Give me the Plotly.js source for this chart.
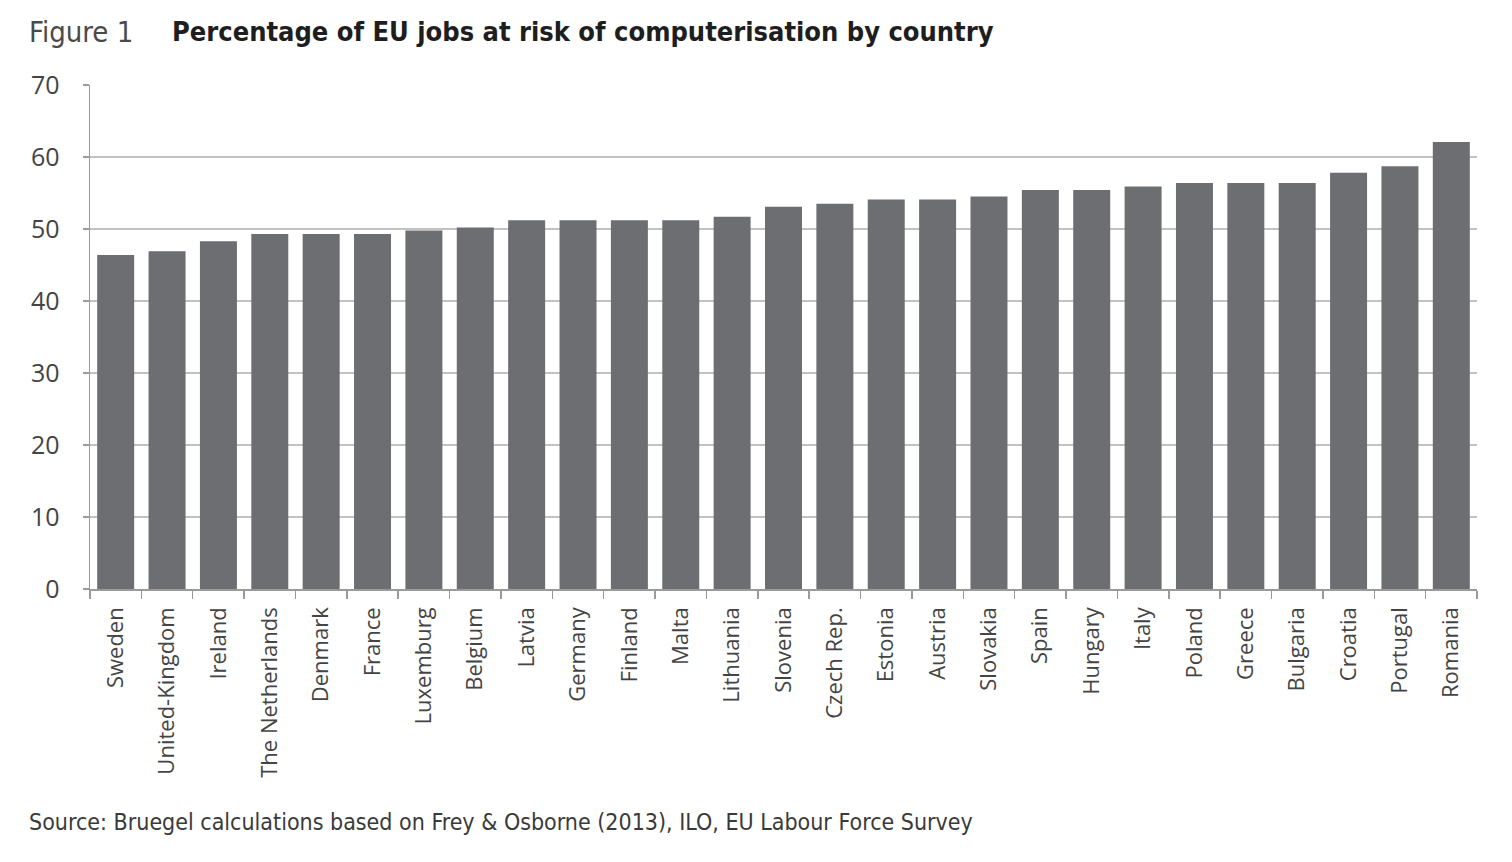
<!DOCTYPE html>
<html>
<head>
<meta charset="utf-8">
<script src="https://cdn.plot.ly/plotly-3.0.1.min.js"></script>
<style>
  html, body { margin: 0; padding: 0; background: #ffffff; }
  #chart { width: 1512px; height: 862px; }
</style>
</head>
<body>
<div id="chart"></div>
<script>
const countries = ["Sweden", "United-Kingdom", "Ireland", "The Netherlands", "Denmark", "France",
  "Luxemburg", "Belgium", "Latvia", "Germany", "Finland", "Malta", "Lithuania", "Slovenia",
  "Czech Rep.", "Estonia", "Austria", "Slovakia", "Spain", "Hungary", "Italy", "Poland",
  "Greece", "Bulgaria", "Croatia", "Portugal", "Romania"];
const riskPercent = [46.4, 46.9, 48.3, 49.3, 49.3, 49.3,
  49.8, 50.2, 51.2, 51.2, 51.2, 51.2, 51.7, 53.1,
  53.5, 54.1, 54.1, 54.5, 55.4, 55.4, 55.9, 56.4,
  56.4, 56.4, 57.8, 58.7, 62.1];
const yTickValues = [0, 10, 20, 30, 40, 50, 60, 70];

const figureLabel = "Figure 1";
const chartTitle = "Percentage of EU jobs at risk of computerisation by country";
const sourceNote = "Source: Bruegel calculations based on Frey & Osborne (2013), ILO, EU Labour Force Survey";

const fontMain = "'Open Sans', 'DejaVu Sans', sans-serif";
const fontNarrow = "'DejaVu Sans Condensed', 'Open Sans', sans-serif";

const plotLeft = 90, plotRight = 1477, plotTop = 85, plotBottom = 589;
const plotW = plotRight - plotLeft, plotH = plotBottom - plotTop;

const trace = {
  type: "bar",
  x: countries,
  y: riskPercent,
  marker: { color: "#6d6e71", line: { width: 0 } },
  hoverinfo: "x+y"
};

const layout = {
  width: 1512,
  height: 862,
  paper_bgcolor: "#ffffff",
  plot_bgcolor: "#ffffff",
  margin: { l: plotLeft, r: 1512 - plotRight, t: plotTop, b: 862 - plotBottom },
  bargap: 0.28,
  showlegend: false,
  font: { family: fontMain, color: "#444444" },
  xaxis: {
    type: "category",
    tickangle: -90,
    tickson: "boundaries",
    ticks: "outside",
    ticklen: 8,
    tickwidth: 1.5,
    tickcolor: "#9a9a9a",
    showline: true,
    linecolor: "#9a9a9a",
    linewidth: 1.5,
    showgrid: false,
    tickfont: { family: fontMain, size: 22, color: "#444444" },
    ticklabelstandoff: 8,
    automargin: false
  },
  yaxis: {
    range: [0, 70],
    tickvals: yTickValues,
    ticktext: yTickValues.map(String),
    ticks: "outside",
    ticklen: 6,
    tickwidth: 1.5,
    tickcolor: "#9a9a9a",
    showline: true,
    linecolor: "#9a9a9a",
    linewidth: 1.5,
    showgrid: true,
    gridcolor: "#c2c2c2",
    gridwidth: 2,
    zeroline: false,
    tickfont: { family: fontMain, size: 25, color: "#444444" },
    ticklabelstandoff: 18,
    automargin: false
  },
  annotations: [
    {
      text: figureLabel,
      xref: "paper", yref: "paper",
      x: (27 - plotLeft) / plotW, y: (plotBottom - 32) / plotH,
      xanchor: "left", yanchor: "middle",
      showarrow: false,
      font: { family: fontNarrow, size: 29, color: "#4a4a4a" }
    },
    {
      text: "<b>" + chartTitle + "</b>",
      xref: "paper", yref: "paper",
      x: (170 - plotLeft) / plotW, y: (plotBottom - 32) / plotH,
      xanchor: "left", yanchor: "middle",
      showarrow: false,
      font: { family: fontNarrow, size: 27, color: "#1e1e1e" }
    },
    {
      text: sourceNote,
      xref: "paper", yref: "paper",
      x: (27 - plotLeft) / plotW, y: (plotBottom - 822) / plotH,
      xanchor: "left", yanchor: "middle",
      showarrow: false,
      font: { family: fontNarrow, size: 23, color: "#3a3a3a" }
    }
  ]
};

Plotly.newPlot("chart", [trace], layout, { displayModeBar: false, staticPlot: true });
</script>
</body>
</html>
